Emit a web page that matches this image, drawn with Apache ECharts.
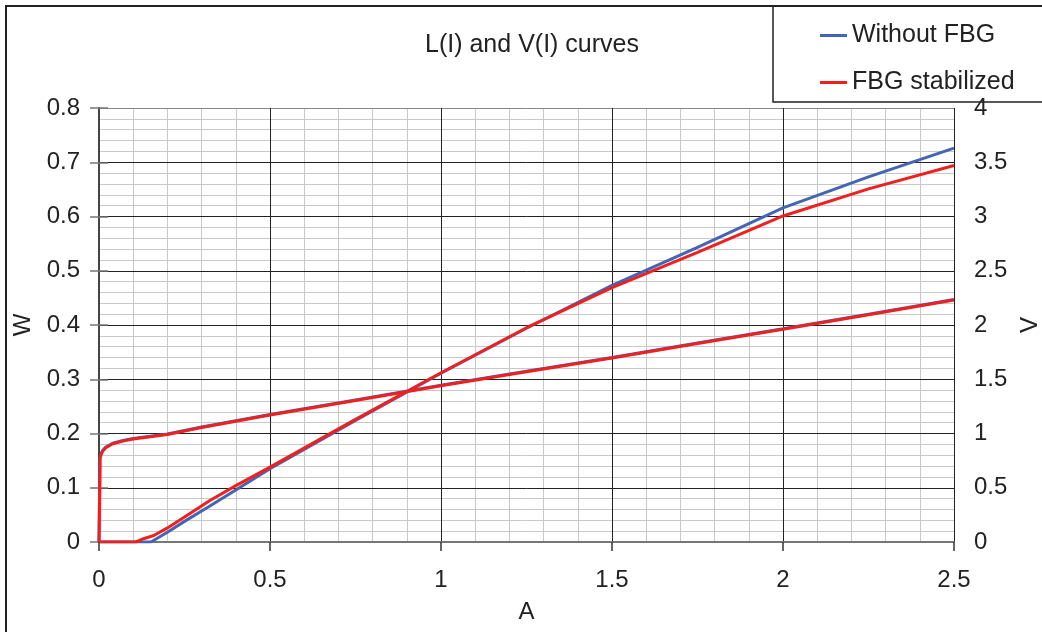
<!DOCTYPE html>
<html>
<head>
<meta charset="utf-8">
<script src="https://cdn.jsdelivr.net/npm/echarts@6/dist/echarts.min.js"></script>
<style>
  html, body { margin: 0; padding: 0; background: #fff; }
  #main { width: 1042px; height: 632px; }
</style>
</head>
<body>
<div id="main"></div>
<script>
// current (A) where the power curves were read
var currentBlueP = [0, 0.152, 0.2, 0.25, 0.323, 0.4, 0.5, 0.75, 1.0, 1.25, 1.5, 1.75, 2.0, 2.25, 2.5];
var powerBlue    = [0, 0, 0.018, 0.038, 0.066, 0.096, 0.135, 0.224, 0.311, 0.394, 0.473, 0.543, 0.616, 0.673, 0.726];

var currentRedP = [0, 0.108, 0.13, 0.16, 0.2, 0.25, 0.323, 0.4, 0.5, 0.75, 1.0, 1.25, 1.5, 1.75, 2.0, 2.25, 2.5];
var powerRed    = [0, 0, 0.006, 0.012, 0.026, 0.046, 0.076, 0.104, 0.138, 0.226, 0.312, 0.395, 0.469, 0.534, 0.601, 0.651, 0.694];

// voltage curves (V), same current points for both
var currentV    = [0, 0.003, 0.006, 0.01, 0.02, 0.04, 0.07, 0.1, 0.2, 0.3, 0.5, 0.75, 1.0, 1.25, 1.5, 1.75, 2.0, 2.25, 2.5];
var voltageBlue = [0, 0.78, 0.81, 0.84, 0.875, 0.91, 0.935, 0.955, 0.995, 1.06, 1.175, 1.31, 1.445, 1.575, 1.70, 1.835, 1.965, 2.10, 2.235];
var voltageRed  = [0, 0.78, 0.805, 0.835, 0.87, 0.905, 0.93, 0.95, 0.99, 1.055, 1.17, 1.305, 1.44, 1.57, 1.695, 1.83, 1.96, 2.095, 2.23];

var blue = '#4464b4';
var red = '#ee2020';
var font = '"Liberation Sans", Arial, sans-serif';

function pairs(xs, ys) {
    var out = [];
    for (var i = 0; i < xs.length; i++) {
        out.push([xs[i], ys[i]]);
    }
    return out;
}

var myChart = echarts.init(document.getElementById('main'));

var lineSeries = function (name, color, yIndex, data) {
    return {
        name: name,
        type: 'line',
        yAxisIndex: yIndex,
        showSymbol: false,
        symbol: 'none',
        animation: false,
        lineStyle: { color: color, width: 3 },
        itemStyle: { color: color },
        data: data
    };
};

// hidden axes only used for the light minor grid
var minorAxis = function (max, step, pos) {
    return {
        type: 'value',
        min: 0,
        max: max,
        interval: step,
        position: pos,
        z: 0,
        axisLine: { show: false },
        axisTick: { show: false },
        axisLabel: { show: false },
        splitLine: { show: true, lineStyle: { color: '#c8c8c8', width: 1 } }
    };
};

var option = {
    animation: false,
    backgroundColor: '#fff',
    textStyle: { fontFamily: font },
    title: {
        text: 'L(I) and V(I) curves',
        left: 527,
        top: 28,
        textAlign: 'center',
        textStyle: { fontFamily: font, fontSize: 25, fontWeight: 'normal', color: '#222' }
    },
    legend: {
        orient: 'vertical',
        left: 815,
        top: 18,
        icon: 'rect',
        itemWidth: 27,
        itemHeight: 3,
        itemGap: 22,
        textStyle: { fontFamily: font, fontSize: 25, color: '#222' },
        data: ['Without FBG', 'FBG stabilized']
    },
    graphic: [
        { type: 'rect', shape: { x: 6, y: 6, width: 1100, height: 700 }, style: { fill: 'none', stroke: '#222', lineWidth: 2 }, silent: true },
        { type: 'rect', shape: { x: 773, y: 6, width: 300, height: 96 }, style: { fill: '#fff', stroke: '#222', lineWidth: 1.5 }, z: -1, silent: true }
    ],
    grid: {
        left: 99,
        right: 88,
        top: 108,
        bottom: 90,
        containLabel: false,
        outerBoundsMode: 'none'
    },
    xAxis: [
        {
            type: 'value',
            min: 0,
            max: 2.5,
            interval: 0.5,
            z: 1,
            name: 'A',
            nameLocation: 'middle',
            nameGap: 58,
            nameTextStyle: { fontFamily: font, fontSize: 24, color: '#222' },
            axisLine: { show: true, onZero: false, lineStyle: { color: '#777', width: 2 } },
            axisTick: { show: true, length: 9, lineStyle: { color: '#333', width: 1.5 } },
            axisLabel: { margin: 26, fontFamily: font, fontSize: 24, color: '#222' },
            splitLine: { show: true, lineStyle: { color: '#222', width: 1 } }
        },
        minorAxis(2.5, 0.1, 'bottom')
    ],
    yAxis: [
        {
            type: 'value',
            min: 0,
            max: 0.8,
            interval: 0.1,
            z: 1,
            name: 'W',
            nameLocation: 'middle',
            nameRotate: 90,
            nameGap: 57,
            nameTextStyle: { fontFamily: font, fontSize: 24, color: '#222' },
            axisLine: { show: true, lineStyle: { color: '#777', width: 2 } },
            axisTick: { show: true, length: 9, lineStyle: { color: '#777', width: 1.5 } },
            axisLabel: { margin: 19, fontFamily: font, fontSize: 24, color: '#222' },
            splitLine: {
                show: true,
                lineStyle: {
                    color: ['#222', '#222', '#222', '#222', '#222', '#222', '#222', '#222', '#888'],
                    width: 1
                }
            }
        },
        {
            type: 'value',
            min: 0,
            max: 4,
            interval: 0.5,
            position: 'right',
            z: 1,
            name: 'V',
            nameLocation: 'middle',
            nameRotate: 90,
            nameGap: 55,
            nameTextStyle: { fontFamily: font, fontSize: 24, color: '#222' },
            axisLine: { show: true, lineStyle: { color: '#333', width: 1.5 } },
            axisTick: { show: true, length: 9, lineStyle: { color: '#777', width: 1.5 } },
            axisLabel: { margin: 20, fontFamily: font, fontSize: 24, color: '#222' },
            splitLine: { show: false }
        },
        minorAxis(0.8, 0.02, 'left')
    ],
    series: [
        lineSeries('Without FBG', blue, 0, pairs(currentBlueP, powerBlue)),
        lineSeries('Without FBG', blue, 1, pairs(currentV, voltageBlue)),
        lineSeries('FBG stabilized', red, 0, pairs(currentRedP, powerRed)),
        lineSeries('FBG stabilized', red, 1, pairs(currentV, voltageRed))
    ]
};
myChart.setOption(option);
</script>
</body>
</html>
